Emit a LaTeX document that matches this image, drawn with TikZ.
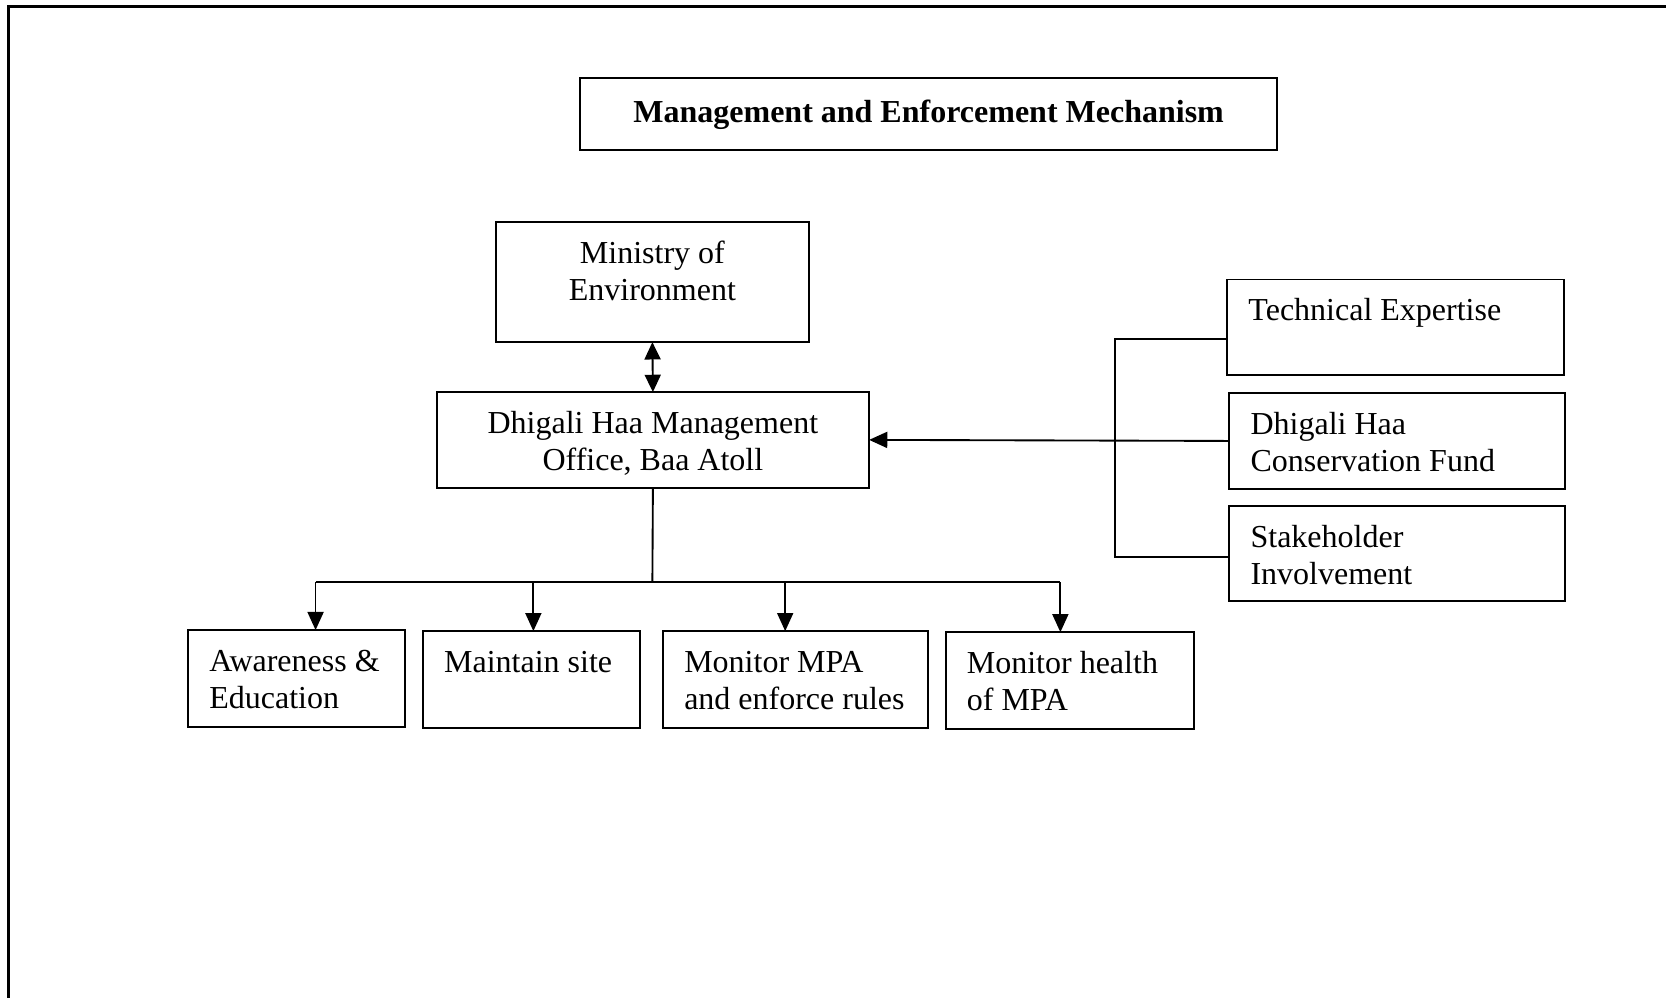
\documentclass[tikz,border=0pt]{standalone}
\usepackage{fontspec}
\setmainfont{Liberation Serif}
\usetikzlibrary{arrows.meta}
\newlength\pxu
\setlength\pxu{0.3984pt}
\newcommand\cbox[4][39]{\parbox[c][#3\pxu][t]{#2\pxu}{\centering\rule{0pt}{#1\pxu}#4\par}}
\newcommand\lbox[3]{\parbox[c][#2\pxu][t]{#1\pxu}{\raggedright\leftskip=20\pxu\rule{0pt}{39\pxu}#3\par}}
\tikzset{
  box/.style={draw, line width=0.7pt, inner sep=0pt, outer sep=0pt, anchor=north west,
    font=\fontsize{12}{13.95}\selectfont},
  conn/.style={line width=0.7pt},
  arr/.style={conn, -{Triangle[length=6.8pt,width=6pt]}},
  darr/.style={conn, {Triangle[length=6.5pt,width=6pt]}-{Triangle[length=6.5pt,width=6pt]}},
  frame/.style={line width=1pt}
}
\begin{document}
\begin{tikzpicture}[x=0.3984pt, y=-0.3984pt]
\useasboundingbox (0,0) rectangle (1568,939);
\draw[frame] (8,939) -- (8,6) -- (1568,6);

\node[box] (title) at (546,73) {\cbox[42]{656}{68}{\textbf{Management and Enforcement Mechanism}}};
\node[box] (min) at (467,209) {\cbox{294}{113}{Ministry of\\Environment}};
\node[box] (dh) at (411,369) {\cbox{407}{90}{Dhigali Haa Management\\Office, Baa Atoll}};

\node[box] (te) at (1155,263) {\lbox{317}{90}{Technical Expertise}};
\node[box] (cf) at (1157,370) {\lbox{316}{90}{Dhigali Haa\\Conservation Fund}};
\node[box] (si) at (1157,476) {\lbox{316}{90}{Stakeholder\\Involvement}};

\node[box] (aw) at (177,593) {\lbox{204}{91}{Awareness \&\\Education}};
\node[box] (ms) at (398,594) {\lbox{204}{91}{Maintain site}};
\node[box] (mm) at (624,594) {\lbox{249}{91}{Monitor MPA\\and enforce rules}};
\node[box] (mh) at (890,595) {\lbox{234}{91}{Monitor health\\of MPA}};

\draw[darr] (min.south) -- (dh.north);

\coordinate (bus) at (614,548);
\coordinate (a1) at (297,548);
\coordinate (a2) at (502,548);
\coordinate (a3) at (739,548);
\coordinate (a4) at (998,548);
\draw[conn] (dh.south) -- (bus);
\draw[conn] (a1) -- (a4);
\draw[arr] (a1) -- (a1 |- aw.north);
\draw[arr] (a2) -- (a2 |- ms.north);
\draw[arr] (a3) -- (a3 |- mm.north);
\draw[arr] (a4) -- (a4 |- mh.north);

\coordinate (bt) at (1049,319);
\coordinate (bb) at (1049,524);
\draw[conn] (bt -| te.west) -- (bt) -- (bb) -- (bb -| si.west);
\draw[arr] (cf.west) -- (dh.east);
\end{tikzpicture}
\end{document}
